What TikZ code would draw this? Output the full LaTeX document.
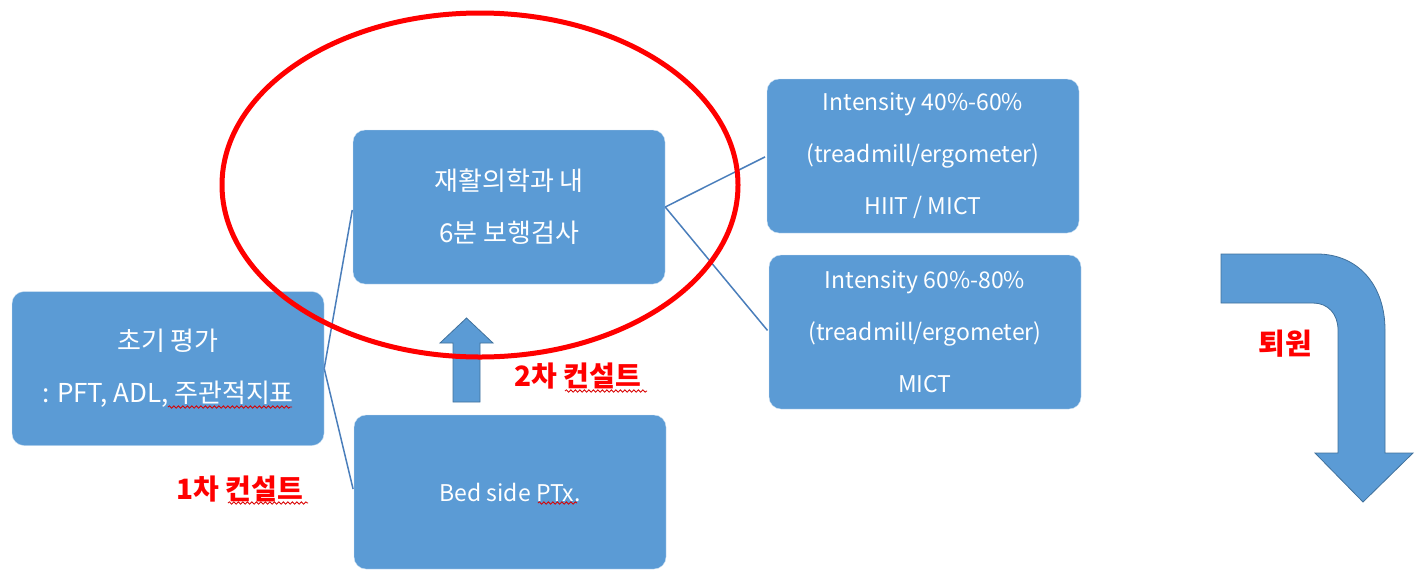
\documentclass[tikz,border=0pt]{standalone}
\usepackage{fontspec}
\setmainfont{Noto Sans CJK KR}
\usetikzlibrary{decorations.pathmorphing}

\definecolor{boxblue}{HTML}{5B9BD5}
\definecolor{lineblue}{HTML}{4A7EBB}
\definecolor{edgeblue}{HTML}{41719C}
\definecolor{markred}{HTML}{FF0000}

\tikzset{
	stage/.style={draw=white!70!boxblue, fill=boxblue, rounded corners=12pt,
		minimum width=312pt, minimum height=154pt, text=white, align=center,
		font=\fontsize{23}{52}\selectfont},
	hangul/.style={font=\fontsize{26}{52}\selectfont},
	link/.style={draw=lineblue, line width=1.5pt},
	consult/.style={text=markred, font=\fontsize{28}{32}\selectfont\bfseries},
	typo/.style={draw=markred!85!black, line width=0.8pt, decorate,
		decoration={snake, amplitude=1.2pt, segment length=4.5pt}},
	bigarrow/.style={fill=boxblue, draw=edgeblue, line width=0.8pt},
}

\begin{document}
\begin{tikzpicture}[x=1pt,y=-1pt]
	\useasboundingbox (0,0) rectangle (1415,571);

	\node[stage, hangul] (init) at (168,368.5) {초기 평가\\: PFT, ADL, 주관적지표};
	\node[stage, hangul] (walk) at (509,207) {재활의학과 내\\6분 보행검사};
	\node[stage] (bed) at (510,492) {Bed side PTx.};
	\node[stage] (low) at (923,156) {Intensity 40\%-60\%\\(treadmill/ergometer)\\HIIT / MICT};
	\node[stage] (high) at (925,332) {Intensity 60\%-80\%\\(treadmill/ergometer)\\MICT};

	\draw[link, shorten >=3pt] (init.east) -- (walk.west);
	\draw[link, shorten >=3pt] (init.east) -- (bed.west);
	\draw[link, shorten >=2pt] (walk.east) -- (low.west);
	\draw[link, shorten >=2pt] (walk.east) -- (high.west);

	% up arrow between the two middle boxes
	\draw[bigarrow] (453,402) -- (453,343) -- (440,343) -- (466.5,318) -- (493,343)
		-- (480,343) -- (480,402) -- cycle;

	% bent arrow on the right
	\draw[bigarrow] (1221,254) -- (1317,254) .. controls (1358,254) and (1385,285) .. (1385,330)
		-- (1385,453) -- (1413,453) -- (1363,502) -- (1315,453) -- (1338,453) -- (1338,330)
		.. controls (1338,314) and (1328,303) .. (1313,303) -- (1221,303) -- cycle;

	\node[consult] (first) at (240,489) {1차 컨설트};
	\node[consult] (second) at (578,376) {2차 컨설트};
	\node[consult, font=\fontsize{29}{32}\selectfont\bfseries] (out) at (1285,344) {퇴원};

	\draw[typo] (168,407) -- (292,407);
	\draw[typo] (228,503) -- (308,503);
	\draw[typo] (565,391) -- (647,391);
	\draw[typo] (538,503) -- (577,503);

	\draw[markred, line width=5pt] (480,185) ellipse [x radius=258, y radius=172];
\end{tikzpicture}
\end{document}
